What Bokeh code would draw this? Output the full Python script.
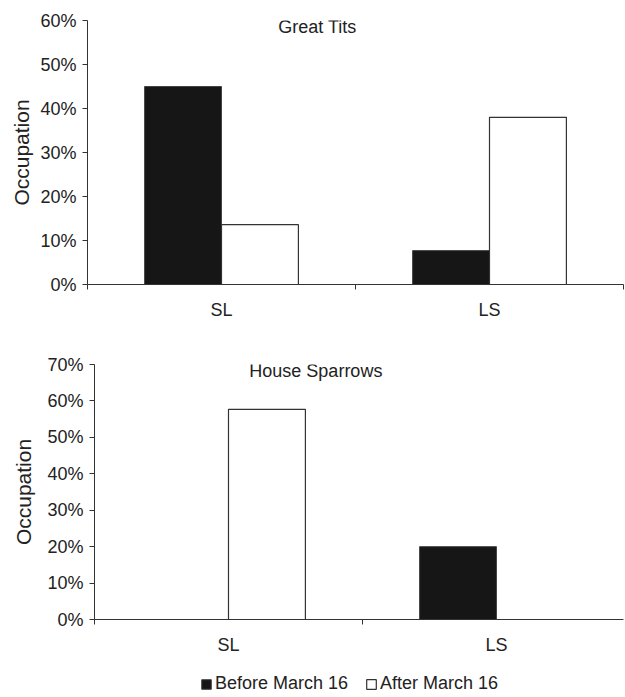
import numpy as np
from bokeh.plotting import figure
from bokeh.layouts import column, row
from bokeh.models import (Range1d, FixedTicker, NumeralTickFormatter, Label,
                          Legend, LegendItem, Spacer)
from bokeh.embed import file_html
from bokeh.resources import INLINE

# ---------------- data ----------------
categories = ["SL", "LS"]
series_names = ["Before March 16", "After March 16"]
great_tits_before = [0.45, 0.077]
great_tits_after = [0.136, 0.38]
house_sparrows_before = [0.0, 0.20]
house_sparrows_after = [0.577, 0.0]
great_tits_yticks = [0.0, 0.1, 0.2, 0.3, 0.4, 0.5, 0.6]
house_sparrows_yticks = [0.0, 0.1, 0.2, 0.3, 0.4, 0.5, 0.6, 0.7]

FONT = "Liberation Sans"
INK = "#222222"
EDGE = "#333333"
BLACK_FILL = "#161616"
BLACK_EDGE = "#444444"
BAR_W = 0.287
FS = "18px"


def add_bars(p, before, after):
    xs = np.arange(len(categories)) + 0.5
    rb = p.vbar(x=xs - BAR_W / 2, top=before, width=BAR_W, bottom=0,
                fill_color=BLACK_FILL, line_color=BLACK_EDGE, line_width=1)
    ra = p.vbar(x=xs + BAR_W / 2, top=after, width=BAR_W, bottom=0,
                fill_color="white", line_color=EDGE, line_width=1.2)
    return xs, rb, ra


def make_panel(title, before, after, yticks, width, height, borders, x_end,
               title_xy, label_standoff):
    left, right, top, bottom = borders
    p = figure(width=width, height=height,
               x_range=Range1d(0, x_end), y_range=Range1d(0, yticks[-1]),
               output_backend="svg", toolbar_location=None,
               min_border_left=left, min_border_right=right,
               min_border_top=top, min_border_bottom=bottom)
    p.outline_line_color = None
    p.xgrid.visible = False
    p.ygrid.visible = False

    xs, rb, ra = add_bars(p, before, after)

    ax = p.xaxis[0]
    ax.ticker = FixedTicker(ticks=list(xs),
                            minor_ticks=list(range(len(categories) + 1)))
    ax.major_label_overrides = {float(x): c for x, c in zip(xs, categories)}
    ax.major_tick_out = 0
    ax.major_tick_in = 0
    ax.minor_tick_out = 5
    ax.minor_tick_in = 0
    ax.minor_tick_line_color = EDGE
    ax.axis_line_color = EDGE
    ax.major_label_text_font = FONT
    ax.major_label_text_font_size = FS
    ax.major_label_text_color = INK
    ax.major_label_standoff = 10

    ay = p.yaxis[0]
    ay.ticker = FixedTicker(ticks=yticks)
    ay.formatter = NumeralTickFormatter(format="0%")
    ay.major_tick_out = 5
    ay.major_tick_in = 0
    ay.minor_tick_out = 0
    ay.minor_tick_in = 0
    ay.major_tick_line_color = EDGE
    ay.axis_line_color = EDGE
    ay.major_label_text_font = FONT
    ay.major_label_text_font_size = FS
    ay.major_label_text_color = INK
    ay.major_label_standoff = 6
    ay.axis_label = "Occupation"
    ay.axis_label_text_font = FONT
    ay.axis_label_text_font_size = "21px"
    ay.axis_label_text_font_style = "normal"
    ay.axis_label_text_color = INK
    ay.axis_label_standoff = label_standoff

    p.add_layout(Label(x=title_xy[0], y=title_xy[1], text=title,
                       text_align="center", text_baseline="alphabetic",
                       text_font=FONT, text_font_size=FS,
                       text_color=INK))
    return p


p1 = make_panel("Great Tits", great_tits_before, great_tits_after,
                great_tits_yticks, 625, 330, (87, 2, 20, 46), 2.0,
                (0.858, 0.586), 4)
p2 = make_panel("House Sparrows", house_sparrows_before,
                house_sparrows_after, house_sparrows_yticks,
                622, 330, (91, 2, 34, 41), 1.974, (0.826, 0.683), 9)

# legend strip: hidden copies of the bars feed the legend glyphs
p3 = figure(width=625, height=37, x_range=Range1d(0, 2), y_range=Range1d(0, 1),
            output_backend="svg", toolbar_location=None,
            min_border_left=87, min_border_right=2, min_border_top=0,
            min_border_bottom=0, x_axis_type=None, y_axis_type=None)
p3.outline_line_color = None
p3.xgrid.visible = False
p3.ygrid.visible = False
_, lb, la = add_bars(p3, house_sparrows_before, house_sparrows_after)
lb.visible = False
la.visible = False
legend = Legend(items=[LegendItem(label=series_names[0], renderers=[lb]),
                       LegendItem(label=series_names[1], renderers=[la])],
                orientation="horizontal", location=(113, 3),
                glyph_width=12, glyph_height=12, label_standoff=3,
                spacing=17, padding=0, margin=0,
                border_line_color=None, background_fill_alpha=0,
                inactive_fill_alpha=0,
                label_text_font=FONT, label_text_font_size=FS,
                label_text_color=INK, label_height=14)
p3.add_layout(legend)

layout = column(p1, row(Spacer(width=3), p2), p3)
open("out.html", "w").write(file_html(layout, INLINE))
